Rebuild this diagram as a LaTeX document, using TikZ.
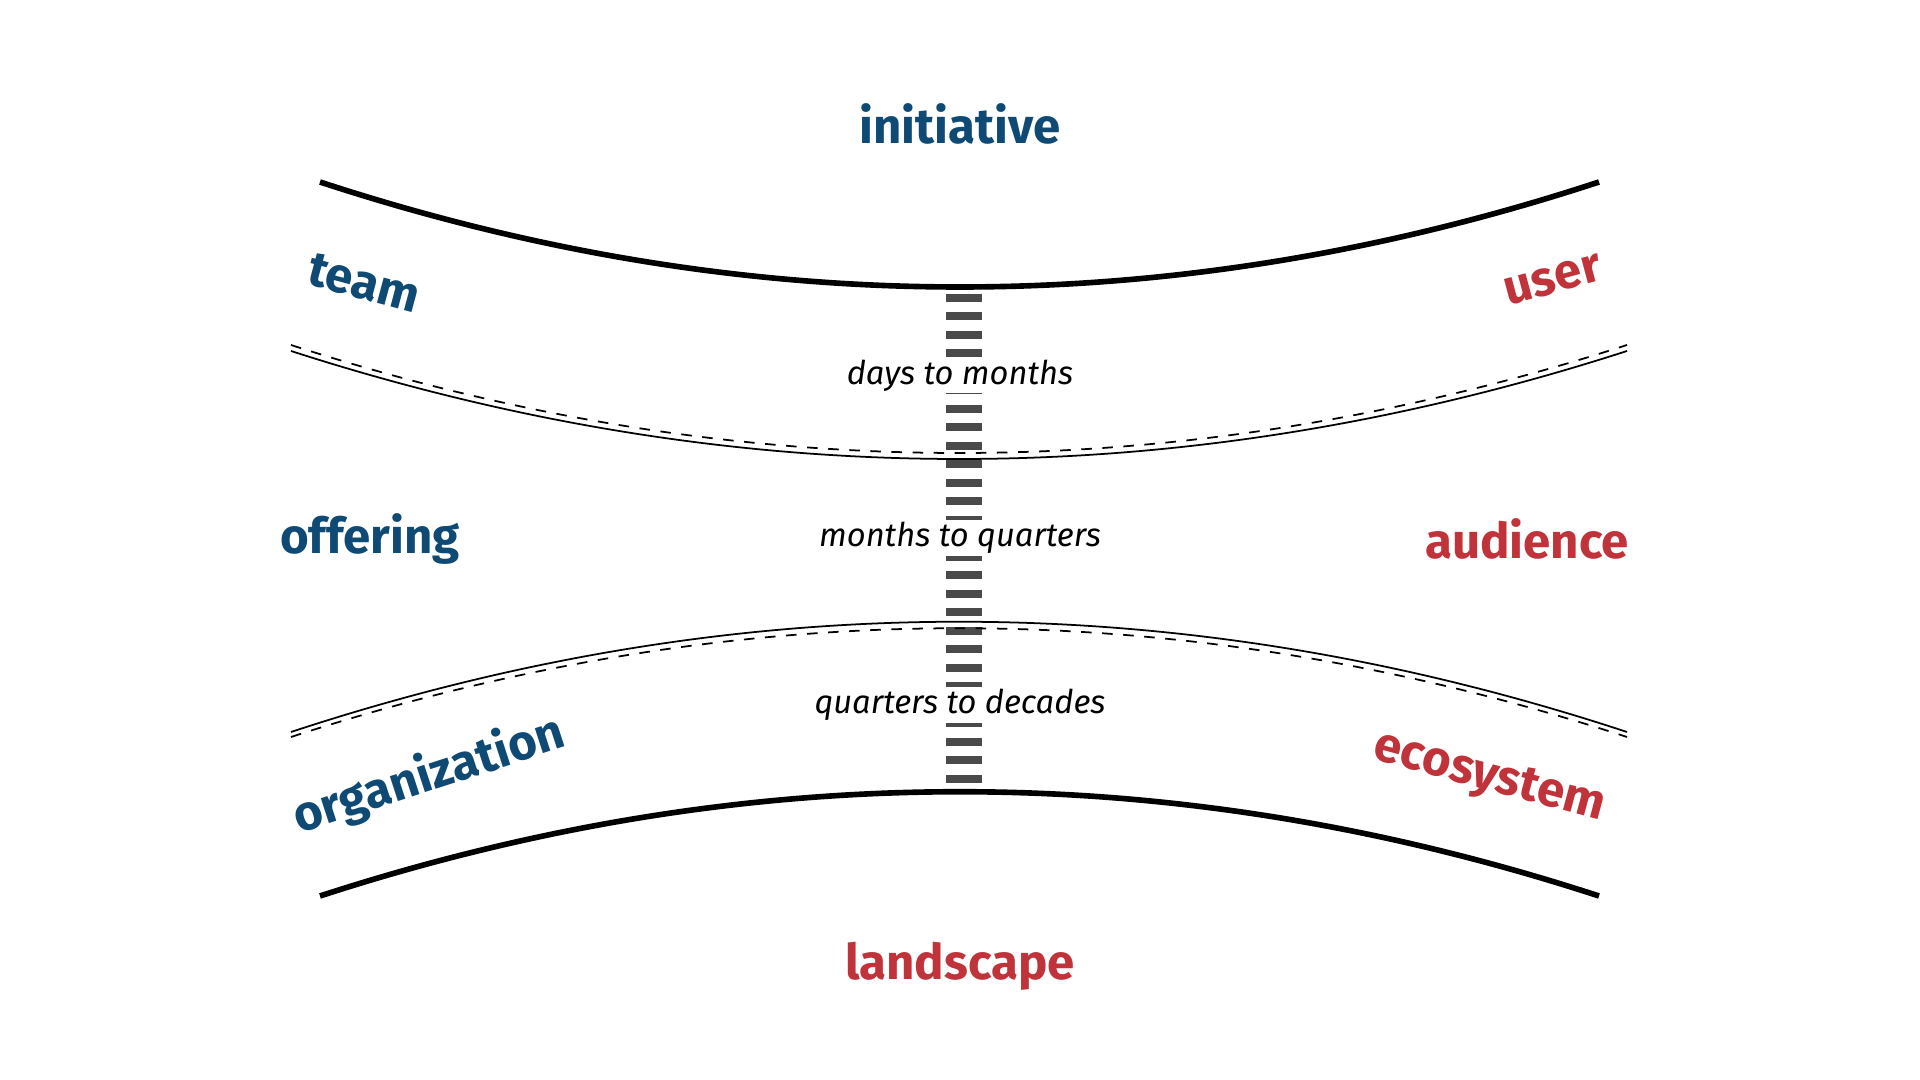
\documentclass[tikz,border=0pt]{standalone}
\usepackage{fontspec}
\setmainfont{Fira Sans}
\definecolor{lblblue}{HTML}{0E4A74}
\definecolor{lblred}{HTML}{C0333A}
\definecolor{rung}{HTML}{4A4A4A}
\tikzset{
  blue lbl/.style={font=\fontsize{14}{17}\selectfont\bfseries, text=lblblue, inner sep=1pt},
  red lbl/.style={font=\fontsize{14}{17}\selectfont\bfseries, text=lblred, inner sep=1pt},
  span lbl/.style={font=\fontsize{9.3}{11}\selectfont\itshape, fill=white, inner sep=0.5pt},
  edge thick/.style={line width=1.6pt},
  edge thin/.style={line width=0.5pt},
}
\begin{document}
\begin{tikzpicture}[x=0.01cm,y=-0.01cm]
  \useasboundingbox (0,0) rectangle (1920,1080);

  % rungs of the ladder
  \foreach \k in {0,...,26}
    \fill[rung] (946,{298+18.5*\k-4}) rectangle (982,{298+18.5*\k+4});

  % bands
  \draw[edge thick] (320,182) .. controls (747,322) and (1173,322) .. (1599,182);
  \draw[edge thin] (291,351) .. controls (737,495) and (1181,495) .. (1627,351);
  \draw[edge thin, dashed] (291,345) .. controls (737,489) and (1181,489) .. (1627,345);
  \draw[edge thin] (291,732) .. controls (737,585) and (1181,585) .. (1627,732);
  \draw[edge thin, dashed] (291,737) .. controls (737,592) and (1181,592) .. (1627,737);
  \draw[edge thick] (320,896) .. controls (747,757) and (1173,757) .. (1599,896);

  % time spans
  \node[span lbl] (days) at (960,376) {days to months};
  \node[span lbl] (months) at (960,538) {months to quarters};
  \node[span lbl] (quarters) at (960,705) {quarters to decades};

  % labels
  \node[blue lbl] (initiative) at (960,124) {initiative};
  \node[blue lbl, rotate=-15] (team) at (364,283) {team};
  \node[red lbl, rotate=15] (user) at (1553,280) {user};
  \node[blue lbl] (offering) at (370,539) {offering};
  \node[red lbl] (audience) at (1527,539) {audience};
  \node[blue lbl, rotate=18] (organization) at (429,776) {organization};
  \node[red lbl, rotate=-15] (ecosystem) at (1489,779) {ecosystem};
  \node[red lbl] (landscape) at (960,966) {landscape};
\end{tikzpicture}
\end{document}
